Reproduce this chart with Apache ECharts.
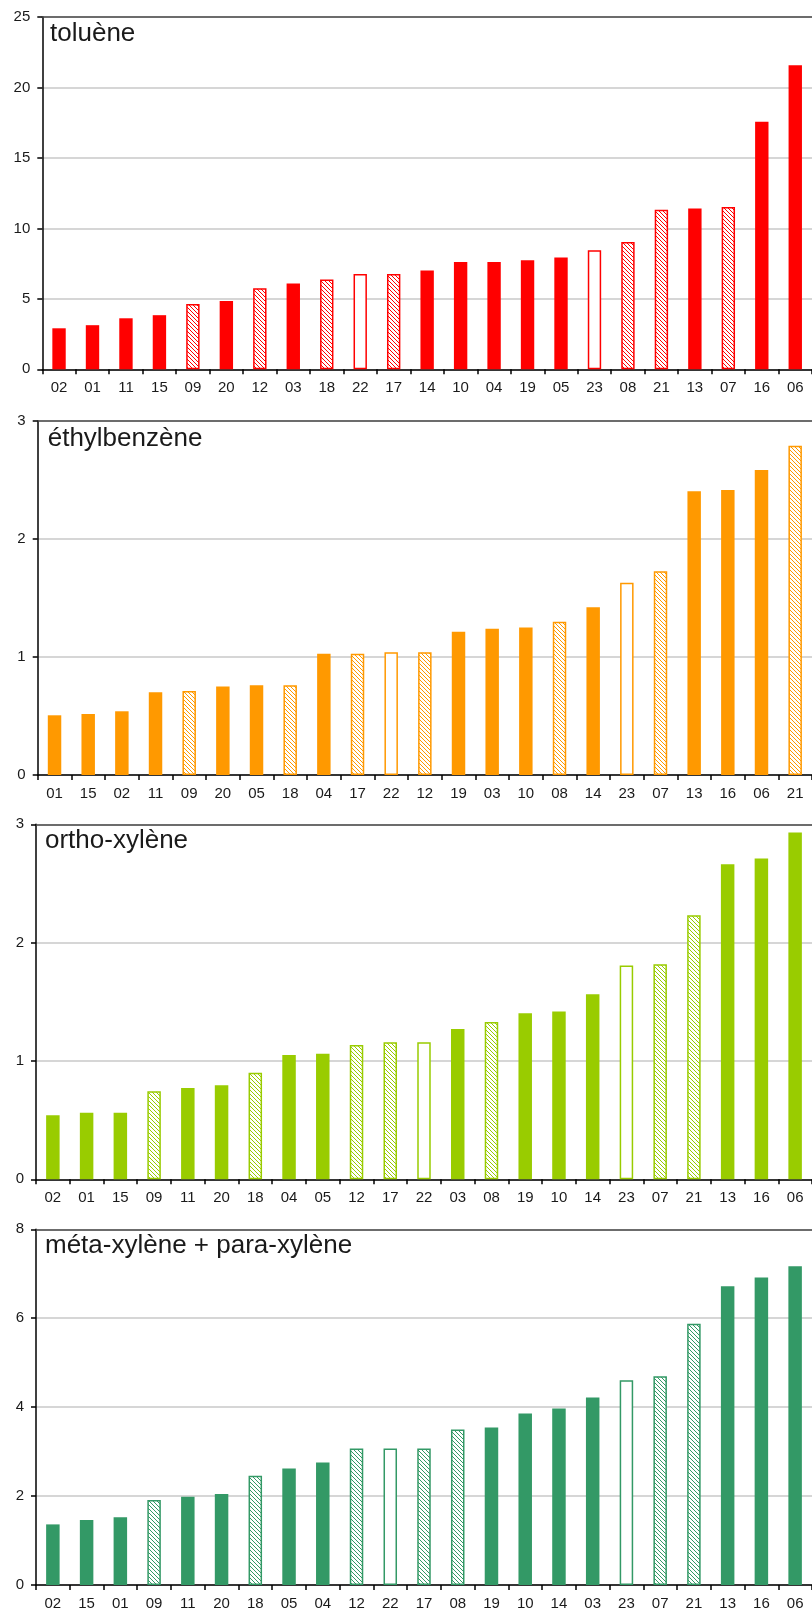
<!DOCTYPE html>
<html>
<head>
<meta charset="utf-8">
<script src="https://cdn.jsdelivr.net/npm/echarts@6/dist/echarts.min.js"></script>
<style>
html,body{margin:0;padding:0;background:#fff;}
#c{width:812px;height:1615px;}
</style>
</head>
<body>
<div id="c"></div>
<script>
// ---- data ----
const hatchedStations = ['09','12','18','17','08','21','07'];
const emptyStations = ['22','23'];

const tolueneCats = ['02','01','11','15','09','20','12','03','18','22','17','14','10','04','19','05','23','08','21','13','07','16','06'];
const tolueneVals = [2.91,3.13,3.62,3.84,4.64,4.85,5.75,6.08,6.37,6.77,6.77,7.01,7.62,7.62,7.74,7.93,8.45,9.04,11.32,11.41,11.51,17.57,21.57];

const ethylCats = ['01','15','02','11','09','20','05','18','04','17','22','12','19','03','10','08','14','23','07','13','16','06','21'];
const ethylVals = [0.506,0.517,0.540,0.701,0.712,0.751,0.760,0.760,1.028,1.028,1.040,1.040,1.215,1.240,1.251,1.299,1.421,1.630,1.726,2.404,2.415,2.585,2.791];

const orthoCats = ['02','01','15','09','11','20','18','04','05','12','17','22','03','08','19','10','14','23','07','21','13','16','06'];
const orthoVals = [0.541,0.563,0.563,0.744,0.772,0.794,0.901,1.051,1.062,1.135,1.158,1.158,1.270,1.330,1.403,1.417,1.563,1.806,1.817,2.231,2.662,2.710,2.930];

const metaCats = ['02','15','01','09','11','20','18','05','04','12','22','17','08','19','10','14','03','23','07','21','13','16','06'];
const metaVals = [1.363,1.461,1.521,1.910,1.985,2.045,2.457,2.622,2.757,3.071,3.071,3.071,3.498,3.543,3.858,3.970,4.217,4.607,4.697,5.873,6.719,6.914,7.169];

const titles = ['toluène','éthylbenzène','ortho-xylène','méta-xylène + para-xylène'];
const yMax = [25,3,3,8];
const yInterval = [5,1,1,2];
const colors = ['#FF0000','#FF9900','#99CC00','#339966'];

// ---- styling ----
function hatch(color){
  const c = document.createElement('canvas');
  c.width = 4; c.height = 4;
  const g = c.getContext('2d');
  g.fillStyle = '#fff'; g.fillRect(0,0,4,4);
  g.strokeStyle = color; g.lineWidth = 1;
  g.beginPath();
  g.moveTo(-1,-1); g.lineTo(5,5);
  g.moveTo(-1,3); g.lineTo(1,5);
  g.moveTo(3,-1); g.lineTo(5,1);
  g.stroke();
  return c;
}

const grids = [
  {left:42.3, top:17, width:772.3, height:352.3},
  {left:37.7, top:421, width:782, height:354},
  {left:36, top:824.3, width:783.8, height:355},
  {left:36, top:1229.3, width:785.2, height:355.7}
];
const titlePos = [
  {left:50, top:20.5},
  {left:47.7, top:425.5},
  {left:45, top:828},
  {left:45, top:1232.5}
];
const cats = [tolueneCats, ethylCats, orthoCats, metaCats];
const vals = [tolueneVals, ethylVals, orthoVals, metaVals];

const fontFam = '"Liberation Sans", Arial, sans-serif';

const xAxes = [];
cats.forEach((c,i)=>{
  xAxes.push({
    type:'category', gridIndex:i, data:c, boundaryGap:true, position:'bottom',
    axisLine:{show:true, lineStyle:{color:'#000', width:1.5}},
    axisTick:{show:true, inside:false, length:5, lineStyle:{color:'#000', width:1.5}},
    axisLabel:{color:'#1a1a1a', fontSize:15, fontFamily:fontFam, margin:11, interval:0},
    splitLine:{show:false}
  });
});
cats.forEach((c,i)=>{
  xAxes.push({
    type:'category', gridIndex:i, data:c, position:'top',
    axisLine:{show:true, lineStyle:{color:'#4a4a4a', width:1.5}},
    axisTick:{show:false}, axisLabel:{show:false}, splitLine:{show:false}
  });
});

const option = {
  animation:false,
  backgroundColor:'#fff',
  title: titles.map((t,i)=>({
    text:t, left:titlePos[i].left, top:titlePos[i].top, padding:0,
    textStyle:{fontSize:26, fontWeight:'normal', color:'#1a1a1a', fontFamily:fontFam}
  })),
  grid: grids.map(g=>Object.assign({show:false, containLabel:false}, g)),
  xAxis: xAxes,
  yAxis: yMax.map((m,i)=>({
    type:'value', gridIndex:i, min:0, max:m, interval:yInterval[i],
    axisLine:{show:true, lineStyle:{color:'#000', width:1.5}},
    axisTick:{show:true, inside:false, length:5, lineStyle:{color:'#000', width:1.5}},
    axisLabel:{color:'#1a1a1a', fontSize:15, fontFamily:fontFam, margin:12},
    splitLine:{show:true, lineStyle:{color:'#c8c8c8', width:1.5}}
  })),
  series: vals.map((v,i)=>{
    const col = colors[i];
    const pat = hatch(col);
    return {
      type:'bar', xAxisIndex:i, yAxisIndex:i, barWidth:'40%',
      data: v.map((val,k)=>{
        const st = cats[i][k];
        let itemStyle;
        if (hatchedStations.includes(st)) itemStyle = {color:{image:pat, repeat:'repeat'}, borderColor:col, borderWidth:1.5};
        else if (emptyStations.includes(st)) itemStyle = {color:'#fff', borderColor:col, borderWidth:1.5};
        else itemStyle = {color:col};
        return {value:val, itemStyle};
      })
    };
  })
};

const chart = echarts.init(document.getElementById('c'), null, {renderer:'canvas'});
chart.setOption(option);
</script>
</body>
</html>
